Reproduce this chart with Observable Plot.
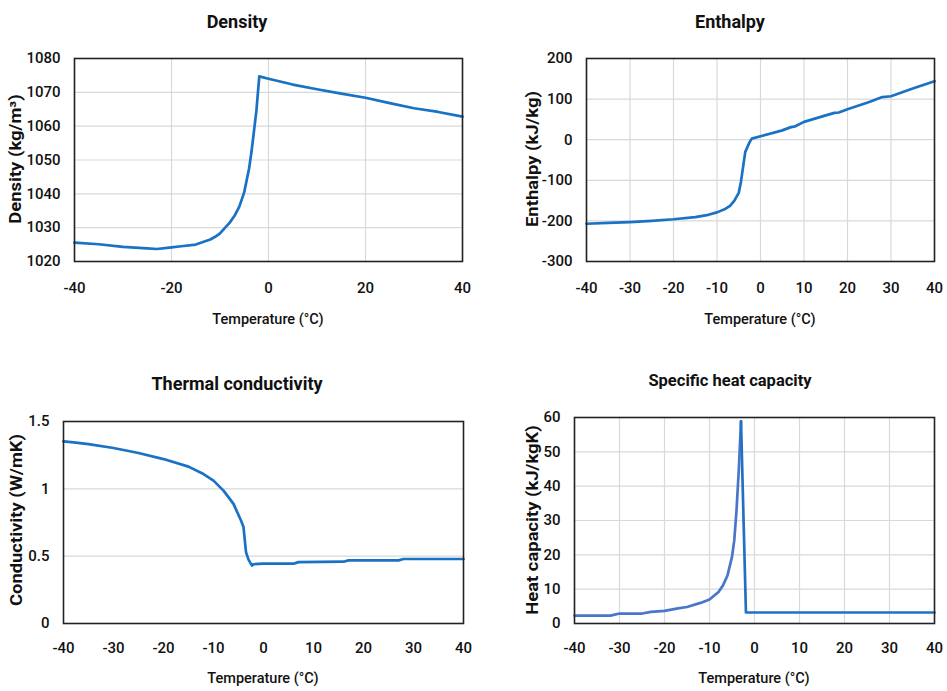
<!DOCTYPE html>
<html>
<head>
<meta charset="utf-8">
<script src="https://cdn.jsdelivr.net/npm/d3@7"></script>
<script src="https://cdn.jsdelivr.net/npm/@observablehq/plot@0.6"></script>
<style>
  html, body { margin: 0; padding: 0; background: #fff; }
  #root { position: relative; width: 947px; height: 691px; overflow: hidden; font-family: Roboto, "Liberation Sans", sans-serif; color: #111; }
  .panel { position: absolute; }
  .panel svg { overflow: visible; }
  .ttl { position: absolute; font-weight: bold; font-size: 18px; white-space: nowrap; transform: translate(-50%, -50%); }
  .ttl.small { font-size: 16.5px; }
  .xl { position: absolute; font-size: 14.5px; font-weight: 500; white-space: nowrap; transform: translate(-50%, -50%); }
  .yl { position: absolute; font-weight: bold; font-size: 16px; white-space: nowrap; transform: translate(-50%, -50%) rotate(-90deg) scaleX(1.15); }
</style>
</head>
<body>
<div id="root"></div>
<script>
// ---------- data ----------
const densityT = [-40,-35,-30,-25,-23,-20,-18,-15,-12,-11,-10,-8,-7,-6,-5,-4.5,-4,-3.5,-3,-2.5,-2.2,-1.9,0,5,10,15,20,25,30,35,40];
const densityV = [1025.6,1025.1,1024.3,1023.9,1023.7,1024.2,1024.5,1025,1026.5,1027.3,1028.3,1031.5,1033.5,1036.3,1040.5,1044,1047.5,1052.5,1058.5,1064.5,1069.6,1074.7,1074,1072.3,1070.9,1069.6,1068.4,1066.8,1065.3,1064.2,1062.8];

const enthalpyT = [-40,-35,-30,-25,-20,-15,-12,-10,-8,-7,-6,-5,-4.5,-4,-3.5,-3,-2.5,-2,0,5,7,8,10,15,17,18,20,25,28,30,35,40];
const enthalpyV = [-207,-205,-203,-200,-196,-190.6,-185,-179,-170,-163,-150,-131,-104,-67,-30,-18,-6,2.6,8.4,23,31,33,44,60,66,67,75,93,105,107,126,144];

const condT = [-40,-38,-35,-30,-25,-20,-15,-12,-10,-8,-6,-4.5,-4,-3.5,-3,-2.3,-2,0,6,7,16,17,27,28,40];
const condV = [1.352,1.345,1.332,1.303,1.266,1.221,1.165,1.11,1.061,0.987,0.888,0.765,0.716,0.53,0.474,0.43,0.44,0.444,0.444,0.456,0.459,0.469,0.469,0.479,0.479];

const heatT = [-40,-32,-30,-25,-23,-20,-17,-15,-12,-10,-8,-7,-6,-5,-4.5,-4,-3.5,-3,-1.9,40];
const heatV = [2.3,2.3,2.9,2.9,3.4,3.7,4.4,4.8,6.0,7.0,9.2,11.1,14,19.4,24.2,32.9,44.5,58.9,3.2,3.2];

const xTicks8 = [-40,-30,-20,-10,0,10,20,30,40];
const xTicks4 = [-40,-20,0,20,40];
const densityTicks = [1020,1030,1040,1050,1060,1070,1080];
const enthalpyTicks = [-300,-200,-100,0,100,200];
const condTicks = [0,0.5,1,1.5];
const heatTicks = [0,10,20,30,40,50,60];

const titles = ["Density","Enthalpy","Thermal conductivity","Specific heat capacity"];
const yLabels = ["Density (kg/m³)","Enthalpy (kJ/kg)","Conductivity (W/mK)","Heat capacity (kJ/kgK)"];
const xLabel = "Temperature (°C)";

const toRows = (T, V) => T.map((t, i) => ({T: t, V: V[i]}));

// ---------- drawing ----------
const root = document.getElementById("root");
const FONT = 'Roboto, "Liberation Sans", sans-serif';
const BLUE = "#1a72c4";
const GRID = "#d9d9d9";
const fmt = d => String(d);

function panel(cfg) {
  const {left, top, width, height, frame, xTicks, yTicks, yDomain, vGrid, hGrid, padX, lines} = cfg;
  const marks = [];
  if (hGrid) marks.push(Plot.gridY(yTicks, {stroke: GRID, strokeOpacity: 1, strokeWidth: 1.2}));
  if (vGrid) marks.push(Plot.gridX(vGrid, {stroke: GRID, strokeOpacity: 1, strokeWidth: 1.2}));
  marks.push(Plot.axisX(xTicks, {tickSize: 0, tickPadding: padX, fontSize: 15, fontWeight: 500, fill: "#111", label: null, tickFormat: fmt}));
  marks.push(Plot.axisY(yTicks, {tickSize: 0, tickPadding: 14, fontSize: 15, fontWeight: 500, fill: "#111", label: null, tickFormat: fmt}));
  for (const l of lines) marks.push(Plot.line(l.rows, {x: "T", y: "V", stroke: l.color, strokeWidth: 2.7, strokeLinejoin: "round"}));
  marks.push(Plot.frame({stroke: "#222", strokeWidth: 1.6}));
  const svg = Plot.plot({
    width, height,
    marginLeft: frame.l - left, marginRight: left + width - frame.r,
    marginTop: frame.t - top, marginBottom: top + height - frame.b,
    x: {domain: [-40, 40]},
    y: {domain: yDomain},
    style: {fontFamily: FONT, fontSize: "15px", background: "transparent", color: "#111", overflow: "visible"},
    marks
  });
  const div = document.createElement("div");
  div.className = "panel";
  div.style.left = left + "px";
  div.style.top = top + "px";
  div.appendChild(svg);
  root.appendChild(div);
}

function label(cls, text, x, y) {
  const d = document.createElement("div");
  d.className = cls;
  d.textContent = text;
  d.style.left = x + "px";
  d.style.top = y + "px";
  root.appendChild(d);
}

// Density
panel({left: 0, top: 0, width: 485, height: 340, frame: {l: 74, r: 462, t: 58, b: 261},
  xTicks: xTicks4, yTicks: densityTicks, yDomain: [1020, 1080], vGrid: xTicks4, hGrid: true, padX: 21,
  lines: [{rows: toRows(densityT, densityV), color: BLUE}]});
// Enthalpy
panel({left: 470, top: 0, width: 477, height: 340, frame: {l: 586, r: 934, t: 58, b: 261},
  xTicks: xTicks8, yTicks: enthalpyTicks, yDomain: [-300, 200], vGrid: xTicks8, hGrid: true, padX: 21,
  lines: [{rows: toRows(enthalpyT, enthalpyV), color: BLUE}]});
// Thermal conductivity
panel({left: 0, top: 340, width: 485, height: 351, frame: {l: 63, r: 463, t: 421, b: 623},
  xTicks: xTicks8, yTicks: condTicks, yDomain: [0, 1.5], vGrid: null, hGrid: true, padX: 19,
  lines: [{rows: toRows(condT, condV), color: BLUE}]});
// Specific heat capacity
const heatRows = toRows(heatT, heatV);
const peakIdx = heatV.indexOf(d3.max(heatV));
panel({left: 470, top: 340, width: 477, height: 351, frame: {l: 574, r: 934, t: 417, b: 623},
  xTicks: xTicks8, yTicks: heatTicks, yDomain: [0, 60], vGrid: xTicks8, hGrid: true, padX: 19,
  lines: [{rows: heatRows.slice(0, peakIdx + 1), color: "#4a76c9"}, {rows: heatRows.slice(peakIdx), color: "#2270c4"}]});

// titles & axis labels
label("ttl", titles[0], 237, 21);
label("ttl", titles[1], 730, 21);
label("ttl", titles[2], 237, 383);
label("ttl small", titles[3], 730, 380);
label("xl", xLabel, 268, 319);
label("xl", xLabel, 760, 319);
label("xl", xLabel, 263, 678);
label("xl", xLabel, 754, 678);
label("yl", yLabels[0], 15, 159);
label("yl", yLabels[1], 532, 159);
label("yl", yLabels[2], 16, 520);
label("yl", yLabels[3], 532, 520);
</script>
</body>
</html>
